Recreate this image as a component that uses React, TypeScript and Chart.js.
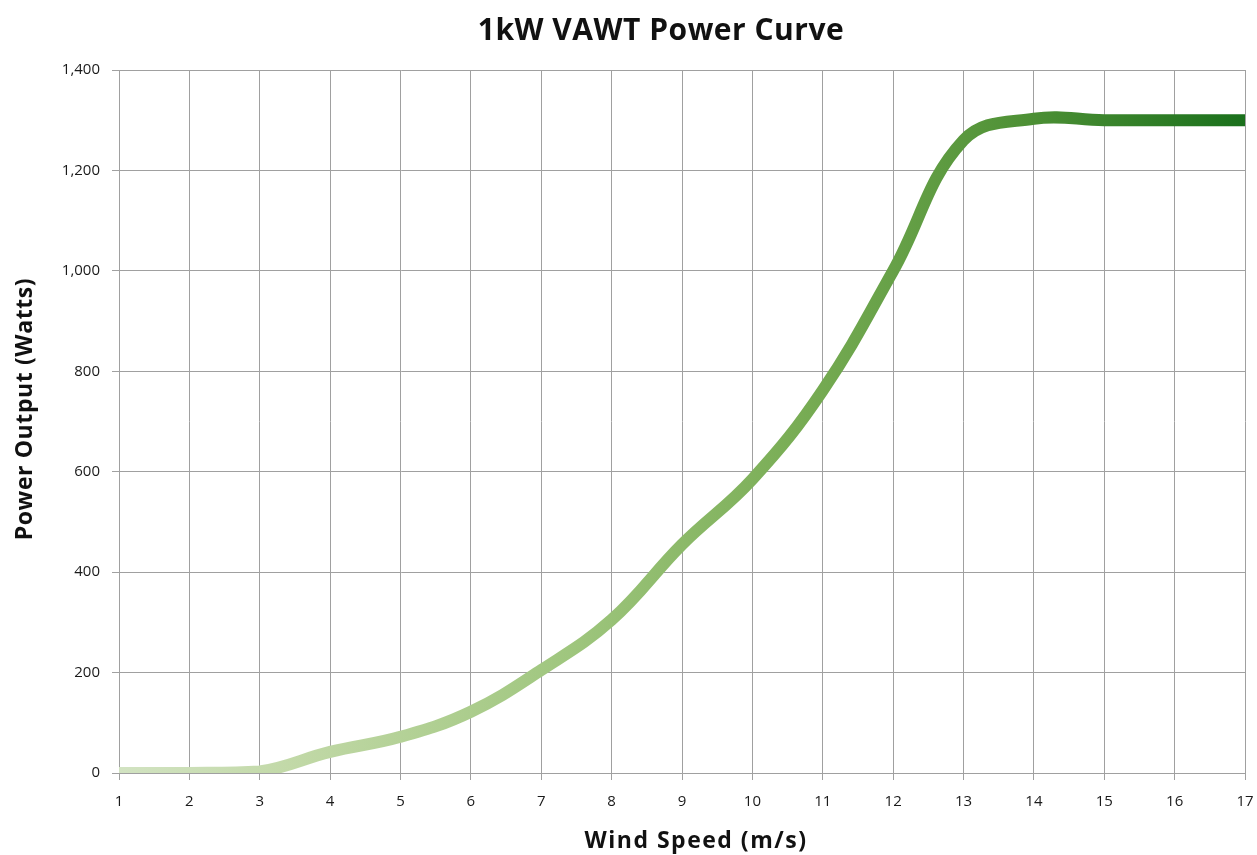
import { useEffect, useRef } from "react";
import Chart from "chart.js/auto";

const windSpeed = [1, 2, 3, 4, 5, 6, 7, 8, 9, 10, 11, 12, 13, 14, 15, 16, 17];
const powerOutput = [0, 0, 3, 42, 72, 122, 205, 305, 455, 585, 762, 1000, 1260, 1303, 1300, 1300, 1300];
const chartTitle = "1kW VAWT Power Curve";
const xTitle = "Wind Speed (m/s)";
const yTitle = "Power Output (Watts)";

const textPlugin = {
  id: "texts",
  afterDraw(chart: any) {
    const { ctx } = chart;
    ctx.save();
    ctx.fillStyle = "#111";
    ctx.textAlign = "center";
    ctx.textBaseline = "middle";
    ctx.font = "bold 30px 'Open Sans'";
    (ctx as any).letterSpacing = "0.5px";
    ctx.fillText(chartTitle, 661, 31);
    ctx.font = "bold 23px 'Open Sans'";
    (ctx as any).letterSpacing = "1.5px";
    ctx.fillText(xTitle, 696, 841);
    (ctx as any).letterSpacing = "0.6px";
    ctx.translate(25, 409);
    ctx.rotate(-Math.PI / 2);
    ctx.fillText(yTitle, 0, 0);
    ctx.restore();
  },
};

export default function App() {
  const ref = useRef<HTMLCanvasElement>(null);
  useEffect(() => {
    document.body.style.margin = "0";
    const chart = new Chart(ref.current!, {
      type: "line",
      data: {
        datasets: [
          {
            data: windSpeed.map((x, i) => ({ x, y: powerOutput[i] })),
            borderWidth: 12,
            tension: 0.4,
            pointRadius: 0,
            borderCapStyle: "butt",
            borderColor: (c: any) => {
              const area = c.chart.chartArea;
              if (!area) return "#7fb25a";
              const g = c.chart.ctx.createLinearGradient(area.left, 0, area.right, 0);
              g.addColorStop(0, "#d2e3c2");
              g.addColorStop(0.15, "#c2d9a8");
              g.addColorStop(0.4, "#9fc67e");
              g.addColorStop(0.6, "#79ad55");
              g.addColorStop(0.8, "#4f9136");
              g.addColorStop(1, "#1a701c");
              return g;
            },
          },
        ],
      },
      options: {
        animation: false,
        responsive: false,
        layout: { padding: { left: 0, top: 70, right: 0, bottom: 0 } },
        plugins: { legend: { display: false }, tooltip: { enabled: false }, title: { display: false } },
        scales: {
          x: {
            type: "linear",
            min: 1,
            max: 17,
            afterFit: (s: any) => {
              s.height = 82;
              s.paddingRight = 12;
              s.paddingLeft = 0;
            },
            ticks: { stepSize: 1, color: "#1a1a1a", font: { family: "'Open Sans'", size: 15 }, padding: 13, maxRotation: 0 },
            grid: { color: "#a0a0a0", tickLength: 7, lineWidth: 1 },
            border: { color: "#a0a0a0" },
          },
          y: {
            min: 0,
            max: 1400,
            afterFit: (s: any) => {
              s.width = 119;
            },
            ticks: {
              stepSize: 200,
              color: "#1a1a1a",
              font: { family: "'Open Sans'", size: 15 },
              padding: 12,
              callback: (v: any) => Number(v).toLocaleString("en-US"),
            },
            grid: { color: "#a0a0a0", tickLength: 7, lineWidth: 1 },
            border: { color: "#a0a0a0" },
          },
        },
      },
      plugins: [textPlugin],
    });
    return () => chart.destroy();
  }, []);
  return <canvas ref={ref} width={1257} height={855} style={{ display: "block" }} />;
}
